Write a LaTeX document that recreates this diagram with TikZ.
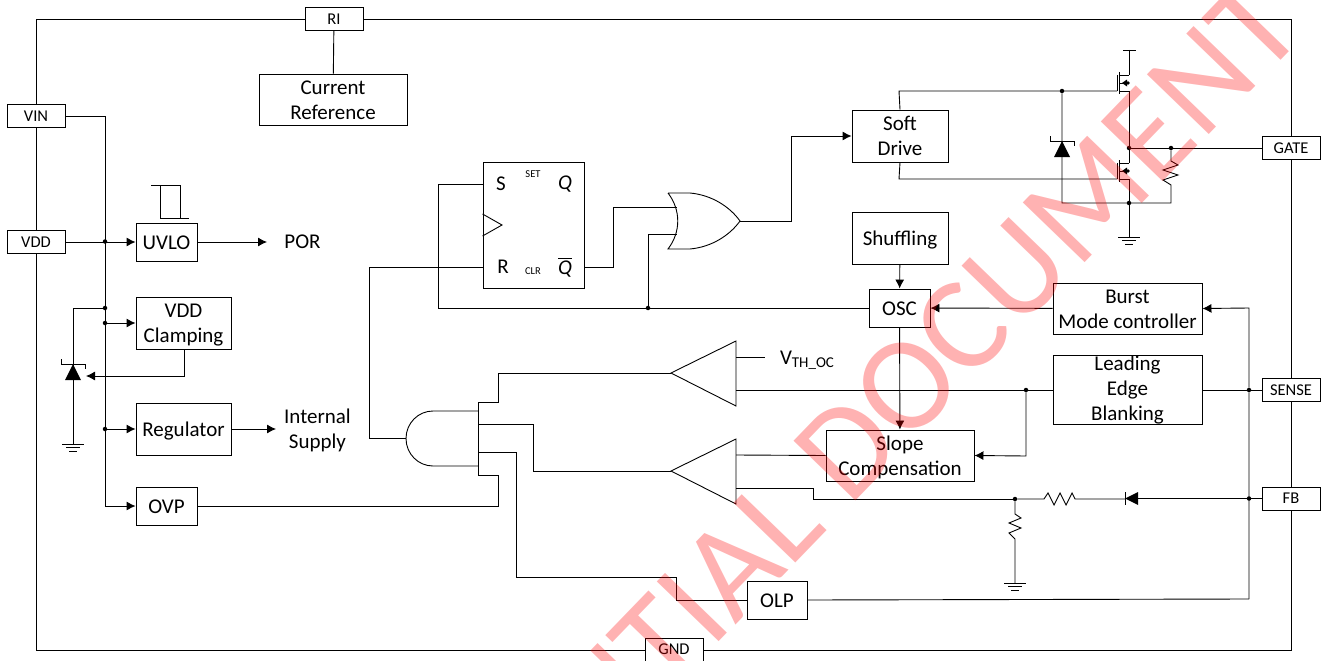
\documentclass[tikz,border=0pt]{standalone}
\usepackage{fontspec}
\setmainfont{Carlito}
\usepackage{amsmath}
\usetikzlibrary{arrows.meta,calc}

\tikzset{
  wire/.style={line width=0.9pt,line join=miter},
  sigArrow/.style={wire,-{Latex[length=9pt,width=9pt]}},
  blockBox/.style={draw,line width=0.9pt,fill=white,inner sep=0pt,align=center,font=\fontsize{21}{25}\selectfont,execute at begin node=\rule[-4pt]{0pt}{22pt}},
  twoLine/.style={execute at begin node=\rule[-4pt]{0pt}{47pt}},
  pinBox/.style={draw,line width=0.9pt,fill=white,inner sep=0pt,minimum width=58pt,minimum height=23pt,font=\fontsize{16.5}{20}\selectfont},
  plainText/.style={inner sep=0pt,align=center,font=\fontsize{21}{25}\selectfont},
  smallText/.style={inner sep=0pt,font=\fontsize{10.5}{12}\selectfont},
  dotJoin/.style={circle,fill=black,inner sep=0pt,minimum size=4.5pt},
  gndSym/.pic={
    \draw[wire] (-11,0) -- (11,0);
    \draw[wire] (-7,3.5) -- (7,3.5);
    \draw[wire] (-4,7) -- (4,7);
  },
  zenerSym/.pic={
    \fill (0,0) -- (-8,16) -- (8,16) -- cycle;
    \draw[wire] (-12,-5) -- (-12,0) -- (12,0) -- (12,5);
  },
  fetSym/.pic={
    % gate bar and channel, origin on the drain-side stub
    \draw[wire] (-12,0) -- (-12,16);
    \draw[wire] (-10,-3) -- (-10,19);
    \draw[wire] (-10,0) -- (0,0);
    \draw[wire] (-10,16) -- (0,16);
    \draw[wire] (-10,8) -- (0,8);
    \fill (-7,8) -- (-2,4.5) -- (-2,11.5) -- cycle;
    \fill (-1,8) circle (1.8);
  }
}

\begin{document}
\begin{tikzpicture}[x=1pt,y=-1pt]
        \useasboundingbox (0,0) rectangle (1325,661);

        % Chip outline
        \draw[wire] (36,19) rectangle (1291,650);

        % Pins on the outline
        \node[pinBox] (pinRI) at (334,19) {RI};
        \node[pinBox] (pinVIN) at (36,116) {VIN};
        \node[pinBox] (pinVDD) at (36,242) {VDD};
        \node[pinBox] (pinGATE) at (1291,148) {GATE};
        \node[pinBox] (pinSENSE) at (1291,390) {SENSE};
        \node[pinBox] (pinFB) at (1291,498.5) {FB};
        \node[pinBox] (pinGND) at (674,649.5) {GND};

        % Blocks
        \node[blockBox,twoLine,minimum width=148pt,minimum height=51pt] (curRef) at (333,99.5) {Current\\Reference};
        \node[blockBox,minimum width=61pt,minimum height=38pt] (uvlo) at (166.5,242) {UVLO};
        \node[blockBox,twoLine,minimum width=95pt,minimum height=52pt] (vddClamp) at (183.5,323) {VDD\\Clamping};
        \node[blockBox,minimum width=95pt,minimum height=52pt] (regulator) at (183.5,429) {Regulator};
        \node[blockBox,minimum width=61pt,minimum height=38pt] (ovp) at (166.5,506) {OVP};
        \node[blockBox,twoLine,minimum width=96pt,minimum height=52pt] (softDrive) at (900,136) {Soft\\Drive};
        \node[blockBox,minimum width=96pt,minimum height=52pt] (shuffling) at (900,238) {Shuffling};
        \node[blockBox,minimum width=61pt,minimum height=38pt] (osc) at (899.5,308) {OSC};
        \node[blockBox,twoLine,minimum width=149pt,minimum height=51pt] (burst) at (1127.5,308.5) {Burst\\Mode controller};
        \node[blockBox,minimum width=149pt,minimum height=68pt] (leb) at (1127.5,390) {Leading\\Edge\\Blanking};
        \node[blockBox,twoLine,minimum width=148pt,minimum height=51pt] (slopeComp) at (900,455.5) {Slope\\Compensation};
        \node[blockBox,minimum width=60pt,minimum height=38pt] (olp) at (777,600) {OLP};
        \node[draw,line width=0.9pt,fill=white,minimum width=101pt,minimum height=126pt] (srLatch) at (533.5,225) {};

        % Latch inner labels
        \node[plainText] (latchS) at (501,184) {S};
        \node[plainText] (latchR) at (503,267) {R};
        \node[plainText] (latchQ) at (565,184) {\textit{Q}};
        \node[plainText] (latchQn) at (565,267) {$\overline{\mbox{\textit{Q}}}$};
        \node[smallText] (latchSet) at (533,174) {SET};
        \node[smallText] (latchClr) at (533,271) {CLR};
        \draw[wire] (srLatch.west |- 0,214) -- (502,225) -- (srLatch.west |- 0,236);

        % Free labels
        \node[plainText] (porText) at (302.5,242) {POR};
        \node[plainText] (supplyText) at (317.5,430) {Internal\\Supply};
        \node[plainText] (vthText) at (807,360) {V\raisebox{-3pt}{\fontsize{15}{15}\selectfont TH\_OC}};

        % Gates
        \draw[wire] (478,411) -- (433,411) arc[start angle=270,end angle=90,x radius=27,y radius=27.5] -- (478,466);
        \draw[wire] (478,402) -- (478,475);
        \draw[wire] (668,193) -- (690,193) .. controls (712,195) and (730,207) .. (740,221) .. controls (730,235) and (712,247) .. (690,249) -- (668,249) .. controls (681,232) and (681,210) .. (668,193);
        \draw[wire] (671,373) -- (736,341) -- (736,406) -- cycle;
        \draw[wire] (671,471) -- (736,439) -- (736,504) -- cycle;

        % Junctions
        \node[dotJoin] (dotVdd) at (105,241.5) {};
        \node[dotJoin] (dotZener) at (105,308) {};
        \node[dotJoin] (dotClamp) at (105,323) {};
        \node[dotJoin] (dotReg) at (105,429) {};
        \node[dotJoin] (dotOr) at (648,308) {};
        \node[dotJoin] (dotSense) at (1249,390) {};
        \node[dotJoin] (dotFb) at (1249,498.5) {};
        \node[dotJoin] (dotSlope) at (1026,390) {};
        \node[dotJoin] (dotFbSplit) at (1015,499) {};
        \node[dotJoin] (dotDrive) at (1062,91) {};
        \node[dotJoin] (dotGate) at (1129,148) {};
        \node[dotJoin] (dotGateRes) at (1171,148) {};
        \node[dotJoin] (dotDrain) at (1129,203) {};

        % Left side wires
        \draw[wire] (pinRI) -- (curRef);
        \draw[sigArrow] (pinVIN.east) -| (105,506) -- (ovp.west);
        \draw[sigArrow] (pinVDD) -- (uvlo);
        \draw[sigArrow] (uvlo) -- (267,242);
        \draw[sigArrow] (dotClamp) -- (vddClamp);
        \draw[sigArrow] (dotReg) -- (regulator);
        \draw[sigArrow] (regulator) -- (276,429);
        \draw[sigArrow] (vddClamp.south -| 184,0) -- (184,376) -- (86,376);

        % Pulse above UVLO
        \draw[wire] (151,185) -- (180,185) -- (180,218) -- (189,218);
        \draw[wire] (160,185) -- (160,218) -- (180,218);

        % Left zener
        \coordinate (leftGnd) at (73,444);
        \pic at (73,364) {zenerSym};
        \pic at (leftGnd) {gndSym};
        \draw[wire] (dotZener) -- (73,308) -- (leftGnd);

        % Latch and gate wires
        \draw[wire] (406,438) -- (369,438) -- (369,267) -- (483,267);
        \draw[wire] (osc.west) -- (438,308) -- (438,184) -- (483,184);
        \draw[wire] (584,267) -- (613,267) -- (613,207) -- (677,207);
        \draw[wire] (dotOr) -- (648,234) -- (677,234);
        \draw[sigArrow] (740,221) -- (791,221) -- (791,136) -- (softDrive.west);

        % And gate inputs
        \draw[wire] (478,402) -- (498,402) -- (498,373) -- (671,373);
        \draw[wire] (478,424) -- (533,424) -- (533,471) -- (671,471);
        \draw[wire] (478,452) -- (516,452) -- (516,577) -- (676,577) -- (676,600) -- (olp.west);
        \draw[wire] (478,475) -- (498,475) -- (498,506) -- (ovp.east);

        % Comparator inputs
        \draw[wire] (736,357) -- (765,357);
        \draw[wire] (736,390) -- (leb.west);
        \draw[wire] (736,455) -- (slopeComp.west);
        \draw[wire] (736,488) -- (813,488) -- (813,499) -- (dotFbSplit);

        % Middle blocks
        \draw[sigArrow] (shuffling) -- (osc);
        \draw[sigArrow] (osc) -- (slopeComp);
        \draw[sigArrow] (burst) -- (osc);
        \draw[sigArrow] (dotSlope) -- (1026,456) -- (slopeComp.east);
        \draw[sigArrow] (1249,599) -- (dotSense) -- (1249,308) -- (burst.east);
        \draw[wire] (olp.east) -- (1249,599);
        \draw[wire] (leb) -- (pinSENSE);

        % Feedback network
        \draw[wire] (pinFB) -- (1125,498.5);
        \fill (1125,498.5) -- (1138,492) -- (1138,505) -- cycle;
        \draw[wire] (1125,492) -- (1125,505);
        \draw[wire] (1125,499) -- (1075,499) -- (1072,493) -- (1066,505) -- (1060,493) -- (1054,505) -- (1048,493) -- (1044,499) -- (dotFbSplit);
        \coordinate (fbGnd) at (1015,583);
        \pic at (fbGnd) {gndSym};
        \draw[wire] (dotFbSplit) -- (1015,514) -- (1021,518) -- (1009,523) -- (1021,528) -- (1009,533) -- (1015,539) -- (fbGnd);

        % Output stage
        \pic at (1129,75) {fetSym};
        \pic at (1129,163) {fetSym};
        \draw[wire] (softDrive.north) -- (899,91) -- (1117,91);
        \draw[wire] (softDrive.south) -- (899,179) -- (1117,179);
        \draw[wire] (1123,50) -- (1136,50);
        \draw[wire] (1129,50) -- (1129,75);
        \draw[wire] (1129,91) -- (1129,163);
        \draw[wire] (1129,179) -- (1129,237);
        \pic at (1129,237) {gndSym};
        \draw[wire] (dotDrive) -- (1062,203) -- (1171,203) -- (1171,185) -- (1163,180) -- (1178,175) -- (1163,170) -- (1178,165) -- (1171,161) -- (dotGateRes);
        \pic at (1062,141) {zenerSym};
        \draw[wire] (dotGate) -- (pinGATE);

        % Watermark
        \begin{scope}
          \clip (0,0) rectangle (1325,661);
          \node[rotate=46,anchor=base east,inner sep=0pt,text=red,text opacity=0.3,font=\fontsize{134}{134}\selectfont] (stampText) at (1308,32) {CONFIDENTIAL DOCUMENT};
        \end{scope}
\end{tikzpicture}
\end{document}
